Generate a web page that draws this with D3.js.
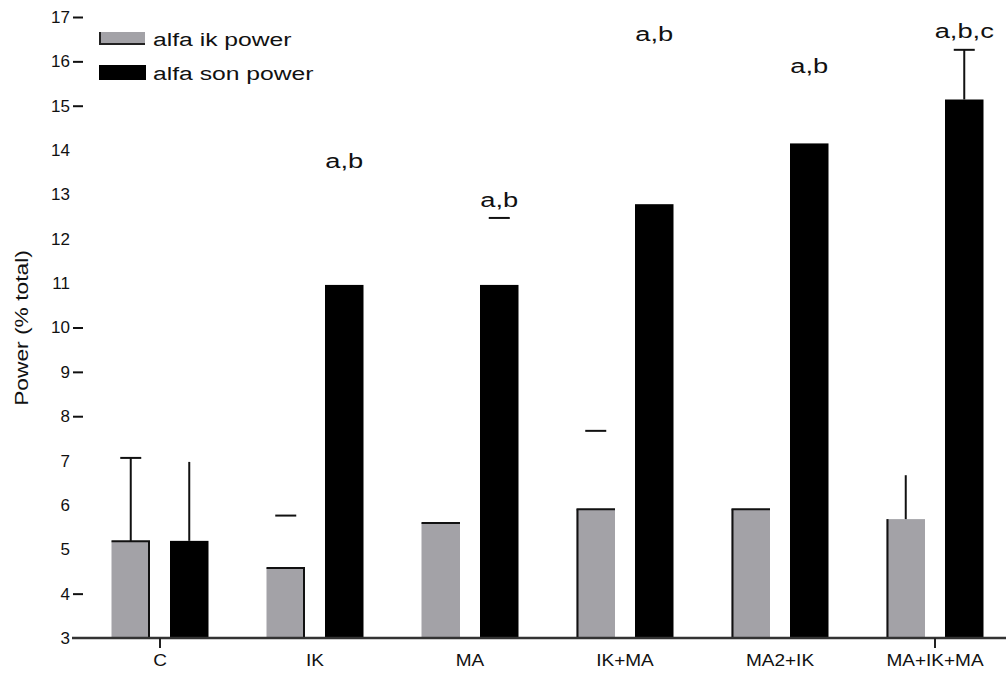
<!DOCTYPE html>
<html>
<head>
<meta charset="utf-8">
<script src="https://cdn.jsdelivr.net/npm/d3@7/dist/d3.min.js"></script>
<style>
  html, body { margin: 0; padding: 0; background: #fff; }
  svg { display: block; font-family: "Liberation Sans", Arial, sans-serif; }
</style>
</head>
<body>
<svg id="chart" width="1006" height="673"></svg>
<script>
// Groups and the two alpha-power series (% of total power)
const categories = ["C", "IK", "MA", "IK+MA", "MA2+IK", "MA+IK+MA"];
const ikPower   = [5.18, 4.58, 5.59, 5.90, 5.90, 5.68];
const sonPower  = [5.19, 10.96, 10.96, 12.78, 14.15, 15.14];
// Error values (SEM); 0 = no error bar
const ikError   = [1.88, 1.18, 0, 1.77, 0, 0.99];
const sonError  = [1.78, 0, 1.51, 0, 0, 1.12];
// Significance letters above the "son" bars and the level they sit at
const noteText  = ["", "a,b", "a,b", "a,b", "a,b", "a,b,c"];
const noteLevel = [null, 13.60, 12.72, 16.46, 15.74, 16.53];
// Axis ticks
const yTicks = [3, 4, 5, 6, 7, 8, 9, 10, 11, 12, 13, 14, 15, 16, 17];
const yTickMarked = [4, 8, 9, 10, 15, 16, 17];
const xTickMarked = ["C", "MA+IK+MA"];
const seriesNames = ["alfa ik power", "alfa son power"];

// Styling of the error bars per bar: stem and/or cap
const ikErrStyle  = ["both", "cap", "none", "cap", "none", "stem"];
const sonErrStyle = ["stem", "none", "cap", "none", "none", "both"];
// Which outline edges are drawn on each grey bar
const ikEdges = [["top","right"], ["top","right"], ["top"], ["top","left"], ["top","left"], ["left"]];

const GREY = "#a3a2a7";
const svg = d3.select("#chart");

const y = d3.scaleLinear().domain([3, 17]).range([638, 17]);
const x = d3.scaleBand().domain(categories).range([82.5, 1012.5]).padding(0);
const sub = d3.scaleBand().domain(["ik", "son"]).range([-48.5, 48.5]).paddingInner(0.342);
const bw = sub.bandwidth();
const cx = c => x(c) + x.bandwidth() / 2;

// Grey bars
const ikG = svg.append("g");
categories.forEach((c, i) => {
  const x0 = cx(c) + sub("ik"), y0 = y(ikPower[i]), y1 = y(3);
  ikG.append("rect").attr("x", x0).attr("y", y0).attr("width", bw).attr("height", y1 - y0).attr("fill", GREY);
  const e = ikEdges[i];
  if (e.includes("top"))   ikG.append("line").attr("x1", x0).attr("x2", x0 + bw).attr("y1", y0).attr("y2", y0);
  if (e.includes("left"))  ikG.append("line").attr("x1", x0 + 1).attr("x2", x0 + 1).attr("y1", y0).attr("y2", y1);
  if (e.includes("right")) ikG.append("line").attr("x1", x0 + bw - 1).attr("x2", x0 + bw - 1).attr("y1", y0).attr("y2", y1);
});
ikG.selectAll("line").attr("stroke", "#111").attr("stroke-width", 2);

// Black bars
svg.append("g").selectAll("rect").data(categories).join("rect")
  .attr("x", c => cx(c) + sub("son"))
  .attr("y", (c, i) => y(sonPower[i]))
  .attr("width", bw)
  .attr("height", (c, i) => y(3) - y(sonPower[i]))
  .attr("fill", "#000");

// Error bars
function errorBars(key, means, errs, styles) {
  const g = svg.append("g").attr("stroke", "#111").attr("stroke-width", 2);
  categories.forEach((c, i) => {
    if (!errs[i] || styles[i] === "none") return;
    const xc = cx(c) + sub(key) + bw / 2;
    const yt = y(means[i] + errs[i]);
    if (styles[i] === "both" || styles[i] === "stem")
      g.append("line").attr("x1", xc).attr("x2", xc).attr("y1", y(means[i])).attr("y2", yt);
    if (styles[i] === "both" || styles[i] === "cap")
      g.append("line").attr("x1", xc - 10.5).attr("x2", xc + 10.5).attr("y1", yt).attr("y2", yt);
  });
}
errorBars("ik", ikPower, ikError, ikErrStyle);
errorBars("son", sonPower, sonError, sonErrStyle);

// Significance letters
categories.forEach((c, i) => {
  if (!noteText[i]) return;
  svg.append("text")
    .attr("transform", `translate(${cx(c) + sub("son") + bw / 2},${y(noteLevel[i])}) scale(1.3,1)`)
    .attr("text-anchor", "middle")
    .attr("font-size", 21)
    .attr("fill", "#111")
    .text(noteText[i]);
});

// X axis
svg.append("line").attr("x1", 72).attr("x2", 1006).attr("y1", y(3)).attr("y2", y(3))
  .attr("stroke", "#333").attr("stroke-width", 2.5);
const xAxis = svg.append("g").attr("transform", `translate(0,${y(3)})`)
  .call(d3.axisBottom(x).tickSize(10).tickPadding(6));
xAxis.select(".domain").remove();
xAxis.selectAll(".tick line").attr("stroke", "#222").attr("stroke-width", 2)
  .attr("opacity", d => xTickMarked.includes(d) ? 1 : 0);
xAxis.selectAll(".tick text").attr("font-size", 17).attr("fill", "#111")
  .attr("font-family", "Liberation Sans, Arial, sans-serif")
  .attr("transform", "scale(1.12,1)");

// Y axis
const yAxis = svg.append("g").attr("transform", "translate(83,0)")
  .call(d3.axisLeft(y).tickValues(yTicks).tickFormat(d3.format("d")).tickSize(10).tickPadding(3));
yAxis.select(".domain").remove();
yAxis.selectAll(".tick line").attr("stroke", "#111").attr("stroke-width", 2)
  .attr("opacity", d => yTickMarked.includes(d) ? 1 : 0);
yAxis.selectAll(".tick text").attr("font-size", 17).attr("fill", "#111")
  .attr("font-family", "Liberation Sans, Arial, sans-serif");

svg.append("text")
  .attr("transform", "translate(28,328) rotate(-90) scale(1.2,1)")
  .attr("text-anchor", "middle")
  .attr("font-size", 19)
  .attr("fill", "#111")
  .text("Power (% total)");

// Legend
const legend = svg.append("g");
legend.append("rect").attr("x", 99).attr("y", 32).attr("width", 46).attr("height", 13).attr("fill", GREY);
legend.append("path").attr("d", "M100,32V44H145").attr("fill", "none").attr("stroke", "#222").attr("stroke-width", 2);
legend.append("rect").attr("x", 99).attr("y", 65).attr("width", 47).attr("height", 15).attr("fill", "#000");
seriesNames.forEach((name, i) => {
  legend.append("text")
    .attr("transform", `translate(153,${i === 0 ? 45.5 : 80}) scale(1.3,1)`)
    .attr("font-size", 19)
    .attr("fill", "#111")
    .text(name);
});
</script>
</body>
</html>
